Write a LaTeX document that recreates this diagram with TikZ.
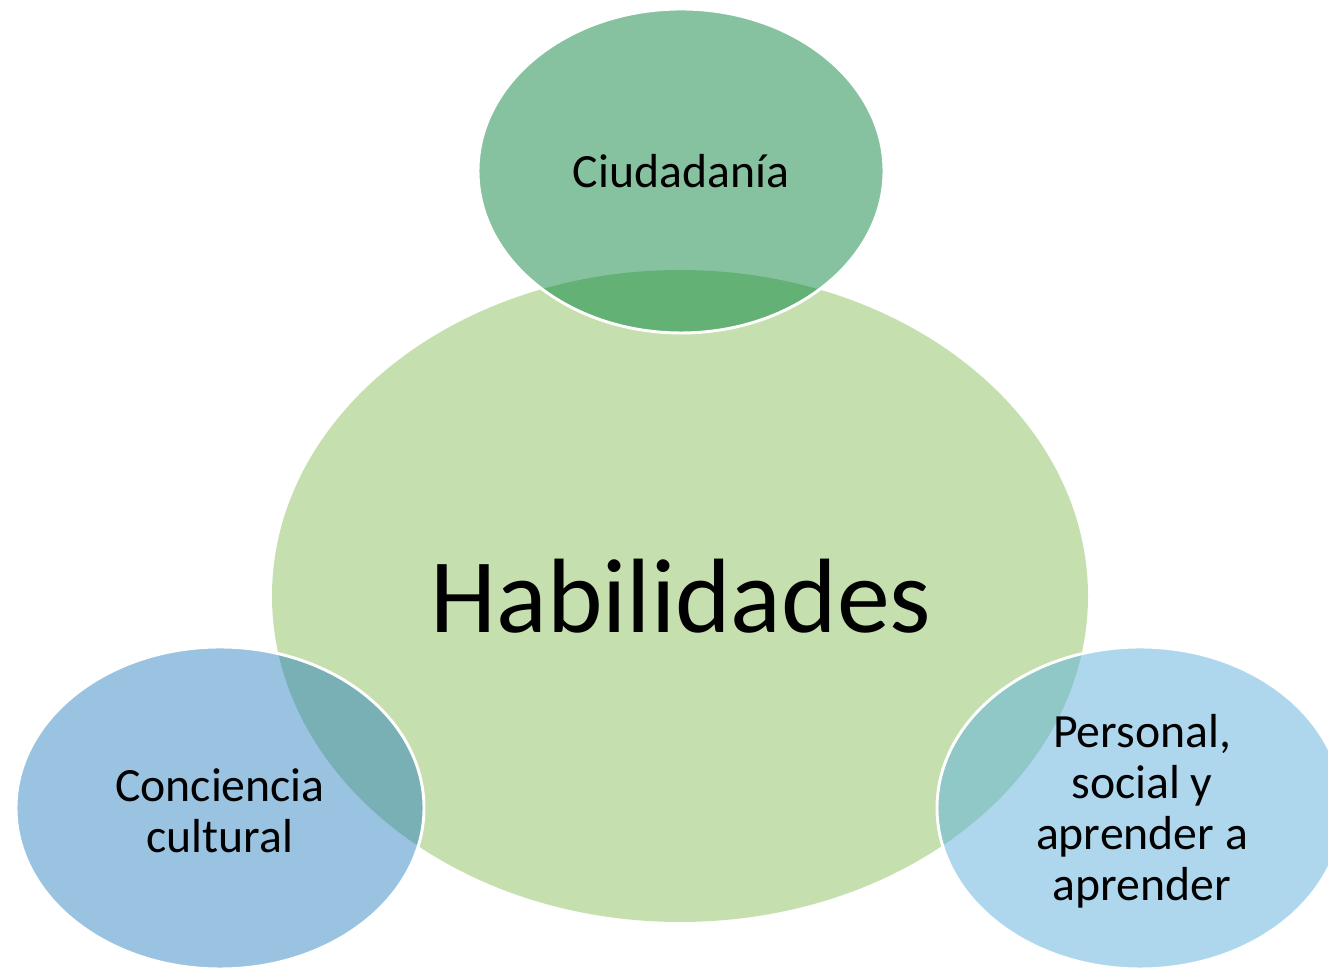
\documentclass[tikz,border=0pt]{standalone}
\usepackage{fontspec}
\setmainfont{Carlito}
\definecolor{bigc}{HTML}{C5E0AE}
\definecolor{topc}{HTML}{86C2A0}
\definecolor{topov}{HTML}{64B176}
\definecolor{leftc}{HTML}{9AC3E2}
\definecolor{leftov}{HTML}{78B0B5}
\definecolor{rightc}{HTML}{AED7EE}
\definecolor{rightov}{HTML}{8FC8C6}
\tikzset{
  lbl/.style={text=black, align=center, font=\fontsize{35.8}{38.3}\selectfont, inner sep=0pt},
  biglbl/.style={text=black, font=\fontsize{79.3}{90}\selectfont, inner sep=0pt},
  rim/.style={draw=white, line width=2.2pt}
}
\begin{document}
\begin{tikzpicture}[x=0.75pt,y=0.75pt]
\useasboundingbox (0,0) rectangle (1328,969);
\begin{scope}
\clip (0,0) rectangle (1328,969);
% central ellipse
\fill[bigc] (680,373) ellipse [x radius=408, y radius=326];
% top
\fill[topc] (681,798) ellipse [x radius=203, y radius=162];
\begin{scope}
\clip (681,798) ellipse [x radius=203, y radius=162];
\fill[topov] (680,373) ellipse [x radius=408, y radius=326];
\end{scope}
\draw[rim] (681,798) ellipse [x radius=203, y radius=162];
% left
\fill[leftc] (220,161) ellipse [x radius=204, y radius=161];
\begin{scope}
\clip (220,161) ellipse [x radius=204, y radius=161];
\fill[leftov] (680,373) ellipse [x radius=408, y radius=326];
\end{scope}
\draw[rim] (220,161) ellipse [x radius=204, y radius=161];
% right
\fill[rightc] (1140,161) ellipse [x radius=203, y radius=161];
\begin{scope}
\clip (1140,161) ellipse [x radius=203, y radius=161];
\fill[rightov] (680,373) ellipse [x radius=408, y radius=326];
\end{scope}
\draw[rim] (1140,161) ellipse [x radius=203, y radius=161];
\end{scope}
% labels
\node[biglbl] (hab) at (681,373) {Habilidades};
\node[lbl] (ciu) at (681,798) {Ciudadanía};
\node[lbl] (con) at (220,158) {Conciencia\\cultural};
\node[lbl] (per) at (1142,158) {Personal,\\social y\\aprender a\\aprender};
\end{tikzpicture}
\end{document}
